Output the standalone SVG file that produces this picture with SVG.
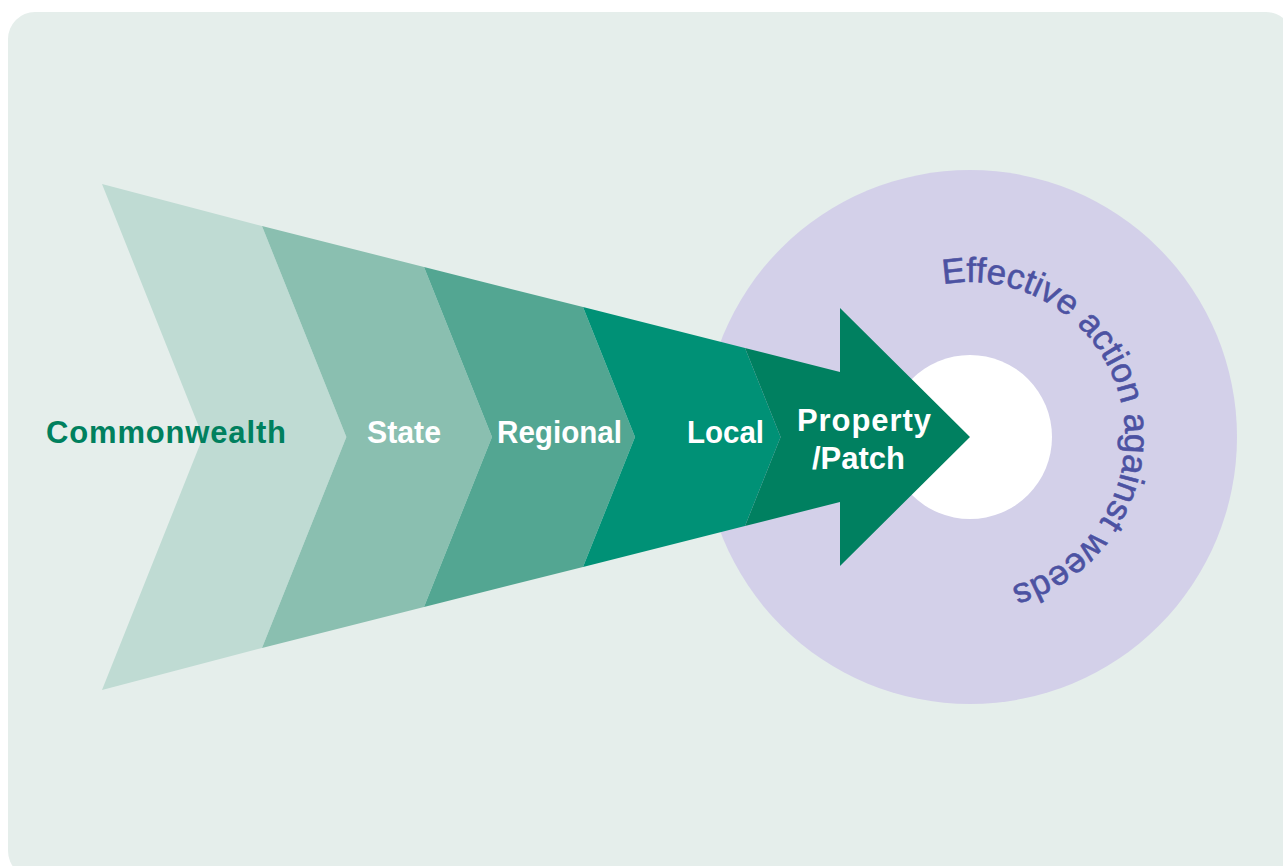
<svg xmlns="http://www.w3.org/2000/svg" width="1283" height="866" viewBox="0 0 1283 866">
  <style>
    .lbl { font-family: "Liberation Sans", Arial, sans-serif; font-weight: bold; font-size: 31px; fill: #ffffff; }
    .dark { fill: #00805e; }
    .arc { font-family: "Liberation Sans", Arial, sans-serif; font-size: 35px; fill: #4c52a2; stroke: #4c52a2; stroke-width: 0.6px; }
  </style>
  <defs>
    <path id="ringPath" d="M 943.1 284.4 A 155 155 0 0 1 1125 437 A 155 155 0 0 1 917 582.7"/>
  </defs>
  <rect x="8" y="12" width="1285" height="866" rx="27" ry="27" fill="#e5eeeb"/>
  <g id="target">
    <circle cx="970" cy="437" r="267" fill="#d3d0e9"/>
    <circle cx="970" cy="437" r="82" fill="#ffffff"/>
    <text class="arc"><textPath href="#ringPath" textLength="472" lengthAdjust="spacing">Effective action against weeds</textPath></text>
  </g>
  <g id="connectors"></g>
  <g id="commonwealth">
    <polygon points="102,184 262,226 346.4,437 262,648 102,690 203,437" fill="#bfdbd3"/>
    <text class="lbl dark" x="46" y="443" textLength="240" lengthAdjust="spacing">Commonwealth</text>
  </g>
  <g id="state">
    <polygon points="262,226 424,267 492,437 424,607 262,648 346.4,437" fill="#8abfb0"/>
    <text class="lbl" x="367" y="443" textLength="74" lengthAdjust="spacingAndGlyphs">State</text>
  </g>
  <g id="regional">
    <polygon points="424,267 583,307 635,437 583,567 424,607 492,437" fill="#53a692"/>
    <text class="lbl" x="497" y="443" textLength="125" lengthAdjust="spacingAndGlyphs">Regional</text>
  </g>
  <g id="local">
    <polygon points="583,307 745,348 780.6,437 745,526 583,567 635,437" fill="#009176"/>
    <text class="lbl" x="687" y="443" textLength="77" lengthAdjust="spacingAndGlyphs">Local</text>
  </g>
  <g id="property">
    <polygon points="745,348 840,372 840,308 970,437 840,566 840,502 745,526 780.6,437" fill="#008060"/>
    <text class="lbl" x="797" y="431" textLength="134" lengthAdjust="spacing">Property</text>
    <text class="lbl" x="812" y="469" textLength="93" lengthAdjust="spacing">/Patch</text>
  </g>
</svg>
